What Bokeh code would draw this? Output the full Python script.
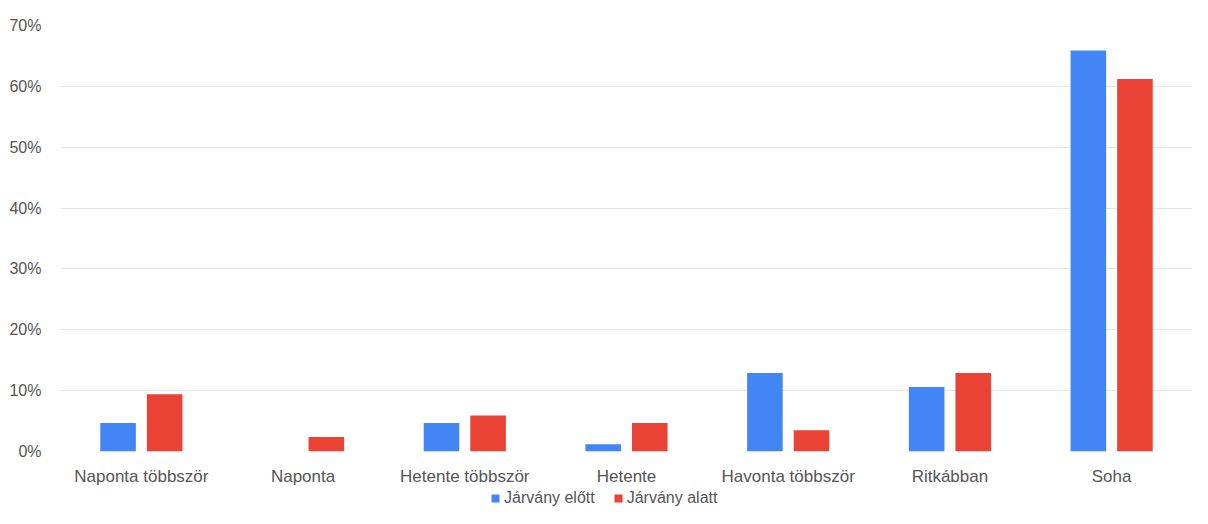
from bokeh.plotting import figure
from bokeh.layouts import column
from bokeh.models import (ColumnDataSource, FactorRange, Range1d, Legend, LegendItem,
                          PrintfTickFormatter, FixedTicker)
from bokeh.transform import dodge
from bokeh.embed import file_html
from bokeh.resources import INLINE

categories = ["Naponta többször", "Naponta", "Hetente többször", "Hetente",
              "Havonta többször", "Ritkábban", "Soha"]
before = [4.7, 0.0, 4.7, 1.2, 12.9, 10.6, 65.9]   # Járvány előtt
during = [9.4, 2.4, 5.9, 4.7, 3.5, 12.9, 61.2]    # Járvány alatt
series_names = ["Járvány előtt", "Járvány alatt"]
y_ticks = [0, 10, 20, 30, 40, 50, 60, 70]

BLUE = "#4285F4"
RED = "#EA4335"
FONT = "Liberation Sans"
TXT = "#555555"

src = ColumnDataSource(dict(cat=categories, before=before, during=during))

p = figure(x_range=FactorRange(*categories, range_padding=0),
           y_range=Range1d(0, 70),
           width=1192, height=488, output_backend="svg", toolbar_location=None,
           min_border_left=60, min_border_right=0, min_border_top=25, min_border_bottom=28)

r1 = p.vbar(x=dodge("cat", -0.144, range=p.x_range), top="before", width=0.22,
            source=src, fill_color=BLUE, line_color=None)
r2 = p.vbar(x=dodge("cat", 0.144, range=p.x_range), top="during", width=0.22,
            source=src, fill_color=RED, line_color=None)

p.outline_line_color = None
p.xgrid.grid_line_color = None
p.ygrid.grid_line_color = "#e6e6e6"
p.ygrid.grid_line_width = 1

p.yaxis.ticker = FixedTicker(ticks=y_ticks)
p.yaxis.formatter = PrintfTickFormatter(format="%d%%")
p.yaxis.axis_line_color = None
p.yaxis.major_tick_line_color = None
p.yaxis.minor_tick_line_color = None
p.yaxis.major_label_standoff = 13
p.yaxis.major_label_text_font = FONT
p.yaxis.major_label_text_font_size = "16px"
p.yaxis.major_label_text_color = TXT

p.xaxis.axis_line_color = None
p.xaxis.major_tick_line_color = None
p.xaxis.minor_tick_line_color = None
p.xaxis.major_label_standoff = 9
p.xaxis.major_label_text_font = FONT
p.xaxis.major_label_text_font_size = "17px"
p.xaxis.major_label_text_color = TXT

# legend strip below the chart (its zero-width bars lie outside its view; only the legend shows)
lg = figure(width=1192, height=20, x_range=FactorRange(*categories, range_padding=0),
            y_range=Range1d(-2, -1),
            output_backend="svg", toolbar_location=None,
            x_axis_location=None, y_axis_location=None,
            min_border=0, min_border_left=0, min_border_right=0,
            min_border_top=0, min_border_bottom=0)
lg.outline_line_color = None
lg.xgrid.grid_line_color = None
lg.ygrid.grid_line_color = None
d1 = lg.vbar(x=dodge("cat", -0.144, range=lg.x_range), top="before", width=0,
             source=src, fill_color=BLUE, line_color=None)
d2 = lg.vbar(x=dodge("cat", 0.144, range=lg.x_range), top="during", width=0,
             source=src, fill_color=RED, line_color=None)

legend = Legend(items=[LegendItem(label=series_names[0], renderers=[d1]),
                       LegendItem(label=series_names[1], renderers=[d2])],
                orientation="horizontal", location=(430, 1),
                label_text_font=FONT, label_text_font_size="16px", label_text_color=TXT,
                glyph_width=10, glyph_height=10, label_standoff=4, spacing=18,
                padding=0, margin=0, border_line_color=None, background_fill_alpha=0,
                label_height=18)
lg.add_layout(legend)

layout = column(p, lg, spacing=0)
open("out.html", "w").write(file_html(layout, INLINE))
